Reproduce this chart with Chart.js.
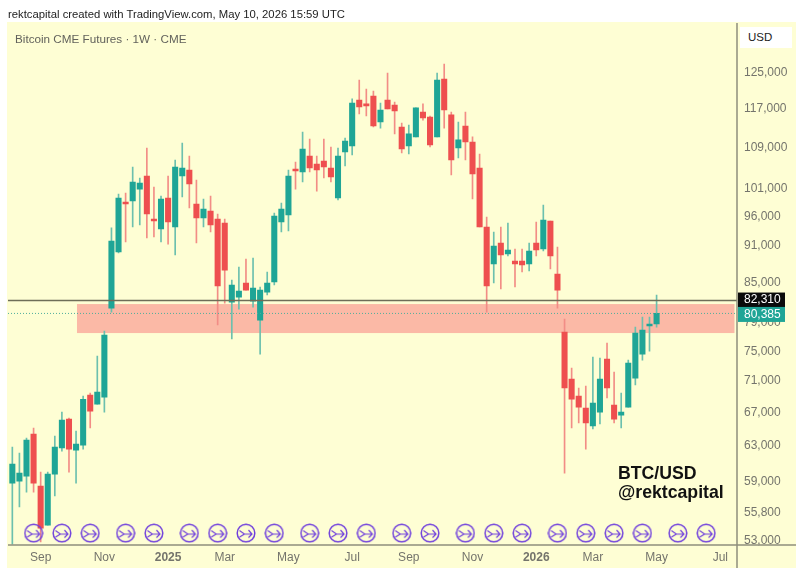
<!DOCTYPE html>
<html>
<head>
<meta charset="utf-8">
<title>Bitcoin CME Futures</title>
<script src="https://cdn.jsdelivr.net/npm/chart.js@4"></script>
<style>
  html, body { margin: 0; padding: 0; background: #fff; }
  #wrap { position: relative; width: 802px; height: 581px; overflow: hidden; font-family: "Liberation Sans", Arial, sans-serif; }
  #myChart { position: absolute; left: 0; top: 0; }
  .txt { position: absolute; white-space: nowrap; }
  #header { left: 8px; top: 8px; font-size: 11.3px; color: #222; }
  #symbol { left: 15px; top: 32px; font-size: 11.7px; color: #62625c; }
  #usd { left: 740px; top: 27px; width: 52px; height: 21px; line-height: 21px; background: #fff; font-size: 11.5px; color: #222; text-indent: 8px; }
  #brand { left: 618px; top: 464px; font-size: 17.7px; line-height: 18.5px; font-weight: bold; color: #111; }
</style>
</head>
<body>
<div id="wrap">
  <canvas id="myChart" width="802" height="581"></canvas>
  <div class="txt" id="header">rektcapital created with TradingView.com, May 10, 2026 15:59 UTC</div>
  <div class="txt" id="symbol">Bitcoin CME Futures · 1W · CME</div>
  <div class="txt" id="usd">USD</div>
  <div class="txt" id="brand">BTC/USD<br>@rektcapital</div>
</div>
<script>
  const weeks = [
    '2024-08-05','2024-08-12','2024-08-19','2024-08-26','2024-09-02','2024-09-09','2024-09-16','2024-09-23','2024-09-30',
    '2024-10-07','2024-10-14','2024-10-21','2024-10-28','2024-11-04','2024-11-11','2024-11-18','2024-11-25','2024-12-02',
    '2024-12-09','2024-12-16','2024-12-23','2024-12-30','2025-01-06','2025-01-13','2025-01-20','2025-01-27','2025-02-03',
    '2025-02-10','2025-02-17','2025-02-24','2025-03-03','2025-03-10','2025-03-17','2025-03-24','2025-03-31','2025-04-07',
    '2025-04-14','2025-04-21','2025-04-28','2025-05-05','2025-05-12','2025-05-19','2025-05-26','2025-06-02','2025-06-09',
    '2025-06-16','2025-06-23','2025-06-30','2025-07-07','2025-07-14','2025-07-21','2025-07-28','2025-08-04','2025-08-11',
    '2025-08-18','2025-08-25','2025-09-01','2025-09-08','2025-09-15','2025-09-22','2025-09-29','2025-10-06','2025-10-13',
    '2025-10-20','2025-10-27','2025-11-03','2025-11-10','2025-11-17','2025-11-24','2025-12-01','2025-12-08','2025-12-15',
    '2025-12-22','2025-12-29','2026-01-05','2026-01-12','2026-01-19','2026-01-26','2026-02-02','2026-02-09','2026-02-16',
    '2026-02-23','2026-03-02','2026-03-09','2026-03-16','2026-03-23','2026-03-30','2026-04-06','2026-04-13','2026-04-20',
    '2026-04-27','2026-05-04','2026-05-11','2026-05-18','2026-05-25','2026-06-01','2026-06-08','2026-06-15','2026-06-22',
    '2026-06-29','2026-07-06','2026-07-13','2026-07-20'
  ];

  const opens = [
    58870,59080,59630,64410,58550,54500,59850,62780,66210,62540,63120,69200,68060,68940,81180,89980,98640,98820,101010,103470,
    95600,93870,99370,94220,103470,104610,98280,95790,97020,95600,94910,82080,82840,85000,82230,79410,83600,85160,95080,96320,
    104610,104230,107340,105770,106350,105000,99370,108130,109330,118960,118100,119840,114250,118960,117880,113210,109330,111160,116370,115310,
    111160,123640,115740,108930,113420,110130,105000,94220,88020,91480,89660,88500,88500,88020,91480,90480,95260,86420,77680,71260,
    69070,67560,65370,67060,73910,67930,66700,67680,71390,74600,78550,78840
  ];
  const closes = [
    60960,59960,63700,58870,54200,59850,62890,66090,62660,63240,68670,67180,69580,77260,91810,99370,98280,102330,102140,96490,
    95260,99190,95080,105190,105000,101950,95790,97380,94560,84540,87050,84690,83750,83910,84230,83910,85000,96140,97380,103470,
    104420,108720,105000,104610,105190,103280,107340,110330,118310,117450,117670,113420,116800,117020,116590,108730,111770,117240,115100,109530,
    123420,116800,106550,110580,110130,103850,94220,84540,90980,89490,90310,88020,87860,90150,90310,95430,89330,83910,70100,68690,
    67680,65730,68180,71260,70100,66210,67060,73380,77540,77960,78840,80385
  ];
  const highs = [
    62890,62200,63930,65130,60070,60070,64170,67060,66330,64770,69070,69450,74330,77830,94050,100100,100280,105190,103090,108930,
    101400,99730,103470,106540,109930,107340,102700,99190,99730,96490,95600,85470,87540,88820,88990,84380,86740,96670,98460,104610,
    106150,112170,110730,107340,110730,109130,108930,110930,119190,123420,121380,120940,118310,125000,118530,114040,113630,117240,118100,115520,
    125000,127070,116370,114250,116370,111160,107730,95960,93350,94220,94910,90480,90480,91480,95080,98100,95260,90820,79560,72710,
    70100,70360,74200,74060,76130,72180,69450,73780,78400,79860,79860,83150
  ];
  const lows = [
    52630,56340,57900,57900,52830,54500,57490,62430,60070,58870,62660,65130,68060,67060,80590,89820,91650,94220,94560,92330,
    92500,91650,91310,89490,99550,97570,91480,94220,93350,78690,81930,76700,81030,83910,81330,74600,83150,84690,93350,93520,
    101010,102330,104230,100640,103090,102330,99010,105380,107540,115950,115520,113210,112980,117020,111770,107930,107730,111160,114660,109130,
    111160,112980,103660,106940,106550,99190,94220,80590,85000,84070,89330,84380,86740,86900,89330,90150,87220,81180,59960,65130,
    65730,62660,65010,65610,68820,65730,65130,67680,70480,73780,75010,78400
  ];

  const priceTicks = [125000,117000,109000,101000,96000,91000,85000,79000,75000,71000,67000,63000,59000,55800,53000];
  const tickWeeks = ['2024-09-02','2024-11-04','2025-01-06','2025-03-03','2025-05-05','2025-07-07','2025-09-01','2025-11-03','2026-01-05','2026-03-02','2026-05-04','2026-07-06'];
  const tickNames = ['Sep','Nov','2025','Mar','May','Jul','Sep','Nov','2026','Mar','May','Jul'];
  const eventWeeks = [3,7,11,16,20,25,29,33,37,42,46,50,55,59,64,68,72,77,81,85,89,94,98];

  const eventLevel = 53700;
  const zoneTop = 81780;
  const zoneBottom = 77540;
  const zoneFrom = 9.13;
  const zoneTo = 102;
  const prevClose = 82310;
  const lastPrice = 80385;

  const UP = '#1fa596';
  const DOWN = '#ee4f4f';
  const UP_WICK = '#6cc0ae';
  const DOWN_WICK = '#f28d86';

  function eventIcon() {
    const c = document.createElement('canvas');
    c.width = 20; c.height = 20;
    const g = c.getContext('2d');
    g.translate(10, 10);
    g.strokeStyle = '#6f3fdc';
    g.lineWidth = 1.5;
    g.beginPath();
    g.arc(0, 0, 8.8, 0, Math.PI * 2);
    g.stroke();
    g.lineWidth = 1.2;
    g.beginPath();
    g.moveTo(-6.5, -2.5); g.lineTo(-1.5, 1); g.lineTo(6, 1);
    g.moveTo(-6.5, 4); g.lineTo(-1.5, 1);
    g.moveTo(2.5, -3); g.lineTo(6, 1); g.lineTo(2.5, 4.5);
    g.stroke();
    return c;
  }

  function isUp(i) { return closes[i] >= opens[i]; }

  const panelPlugin = {
    id: 'panel',
    beforeDraw(chart) {
      const ctx = chart.ctx;
      ctx.save();
      ctx.fillStyle = '#fefed4';
      ctx.fillRect(7, 22, 789, 546);
      ctx.restore();
    },
    beforeDatasetsDraw(chart) {
      const ctx = chart.ctx, x = chart.scales.x, y = chart.scales.y;
      ctx.save();
      // support / resistance zone
      ctx.fillStyle = '#fbb9a6';
      const yt = y.getPixelForValue(zoneTop), yb = y.getPixelForValue(zoneBottom);
      const x0 = x.getPixelForValue(zoneFrom), x1 = x.getPixelForValue(zoneTo);
      ctx.fillRect(x0, yt, x1 - x0, yb - yt);
      ctx.restore();
    },
    afterDatasetsDraw(chart) {
      const ctx = chart.ctx, y = chart.scales.y;
      ctx.save();
      // previous close and last price lines
      ctx.strokeStyle = '#6e6e58';
      ctx.lineWidth = 1.5;
      const yp = y.getPixelForValue(prevClose);
      ctx.beginPath(); ctx.moveTo(8, yp); ctx.lineTo(737, yp); ctx.stroke();
      ctx.strokeStyle = '#4fae9c';
      ctx.lineWidth = 1;
      ctx.setLineDash([1, 2]);
      const yl = y.getPixelForValue(lastPrice);
      ctx.beginPath(); ctx.moveTo(8, yl); ctx.lineTo(737, yl); ctx.stroke();
      ctx.restore();
    },
    afterDraw(chart) {
      const ctx = chart.ctx, y = chart.scales.y, a = chart.chartArea;
      ctx.save();
      // frame
      ctx.strokeStyle = '#8f8f7c';
      ctx.lineWidth = 1.5;
      ctx.beginPath();
      ctx.moveTo(737, 23); ctx.lineTo(737, 568);
      ctx.moveTo(8, a.bottom); ctx.lineTo(796, a.bottom);
      ctx.stroke();
      // price labels
      ctx.font = '12px "Liberation Sans", Arial, sans-serif';
      ctx.textBaseline = 'middle';
      const yp = y.getPixelForValue(prevClose), yl = y.getPixelForValue(lastPrice);
      ctx.fillStyle = '#0b0b0b';
      ctx.fillRect(738, yp - 8, 47, 14.5);
      ctx.fillStyle = '#1fa596';
      ctx.fillRect(738, yl - 6.5, 47, 15);
      ctx.fillStyle = '#ffffff';
      ctx.fillText(prevClose.toLocaleString('en-US'), 744, yp - 0.5);
      ctx.fillText(lastPrice.toLocaleString('en-US'), 744, yl + 1);
      ctx.restore();
    }
  };

  new Chart(document.getElementById('myChart').getContext('2d'), {
    data: {
      labels: weeks,
      datasets: [
        {
          type: 'line',
          data: eventWeeks.map(i => ({ x: weeks[i], y: eventLevel })),
          showLine: false,
          pointStyle: eventIcon(),
          pointRadius: 10,
          order: 0
        },
        {
          type: 'bar',
          data: opens.map((o, i) => [o, closes[i]]),
          backgroundColor: opens.map((o, i) => isUp(i) ? UP : DOWN),
          barThickness: 5.4,
          minBarLength: 2,
          grouped: false,
          order: 1
        },
        {
          type: 'bar',
          data: lows.map((l, i) => [l, highs[i]]),
          backgroundColor: opens.map((o, i) => isUp(i) ? UP_WICK : DOWN_WICK),
          barThickness: 1,
          grouped: false,
          order: 2
        }
      ]
    },
    options: {
      responsive: false,
      animation: false,
      layout: { autoPadding: false, padding: { left: 8.8, top: 23, right: 6, bottom: 14 } },
      plugins: { legend: { display: false }, tooltip: { enabled: false } },
      scales: {
        x: {
          type: 'category',
          grid: { display: false, drawTicks: false },
          border: { display: false },
          afterFit(axis) { axis.height = 22; axis.paddingLeft = 0; axis.paddingRight = 0; },
          ticks: {
            autoSkip: false,
            maxRotation: 0,
            padding: 5,
            color: '#74746c',
            font(ctx) {
              const bold = ctx.tick && /^\d{4}$/.test(ctx.tick.label);
              return { family: '"Liberation Sans", Arial, sans-serif', size: 12, weight: bold ? 'bold' : 'normal' };
            },
            callback(value) {
              const k = tickWeeks.indexOf(weeks[value]);
              return k >= 0 ? tickNames[k] : null;
            }
          }
        },
        y: {
          type: 'logarithmic',
          position: 'right',
          min: 52540,
          max: 137030,
          grid: { display: false, drawTicks: false },
          border: { display: false },
          afterFit(axis) { axis.width = 58; },
          afterBuildTicks(axis) { axis.ticks = priceTicks.map(v => ({ value: v })); },
          ticks: {
            autoSkip: false,
            padding: 6,
            color: '#74746c',
            font: { family: '"Liberation Sans", Arial, sans-serif', size: 12 },
            callback: v => Number(v).toLocaleString('en-US')
          }
        }
      }
    },
    plugins: [panelPlugin]
  });
</script>
</body>
</html>
